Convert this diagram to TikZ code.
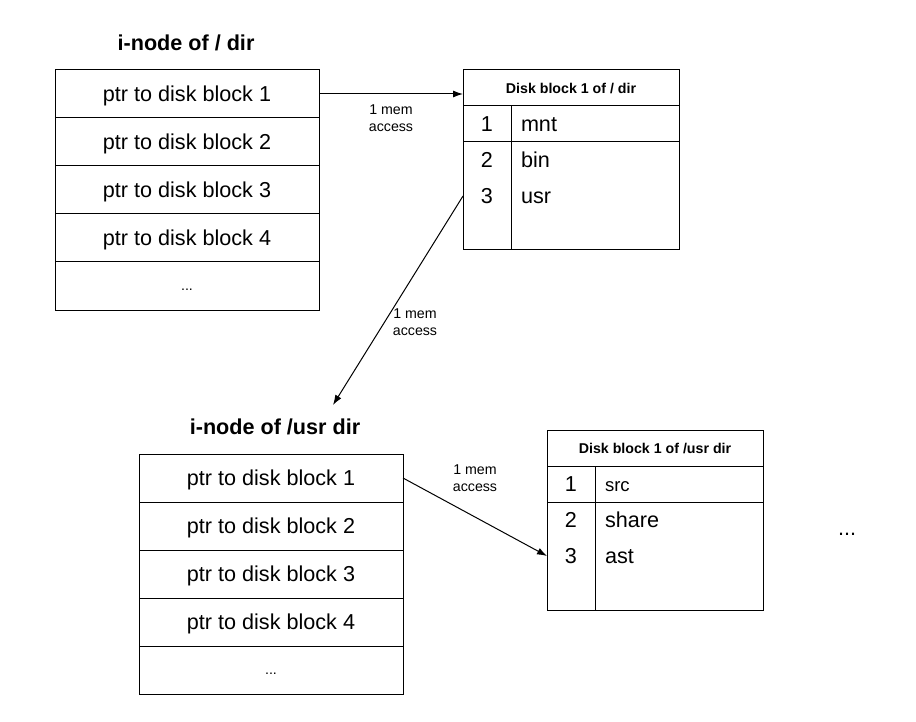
\documentclass[tikz,border=0pt]{standalone}
\usepackage{fontspec}
\setmainfont{Liberation Sans}
\usetikzlibrary{arrows.meta}
\usetikzlibrary{positioning}

\begin{document}
\begin{tikzpicture}[
  x=1pt, y=-1pt,
  > = {Latex[length=10pt,width=7pt]},
  line width=1pt,
  every node/.style = {outer sep=0pt, inner sep=0pt},
  bigtext/.style = {font=\fontsize{21.6}{26}\selectfont, text height=18pt, text depth=3pt},
  cell/.style = {draw, bigtext, minimum width=264pt, minimum height=48pt},
  heading/.style = {font=\fontsize{21.6}{26}\selectfont\bfseries},
  hdr/.style = {draw, minimum width=216pt, minimum height=36pt, font=\fontsize{14.2}{17}\selectfont\bfseries},
  numcell/.style = {draw, bigtext, minimum width=48pt, minimum height=36pt},
  namecell/.style = {draw, bigtext, minimum width=168pt, minimum height=36pt, text width=148pt, align=left},
  blockbody/.style = {draw, minimum width=216pt, minimum height=108pt},
  idx/.style = {bigtext},
  entry/.style = {bigtext, anchor=west},
  lbl/.style = {font=\fontsize{14.2}{17}\selectfont, align=center}
  ]
	\useasboundingbox (0,0) rectangle (916,722);

	% i-node of / dir
	\node[heading] (t1) at (186,43) {i-node of / dir};
	\foreach \i in {1,...,4}
		\node[cell] (a\i) at (187,{94+48*(\i-1)}) {ptr to disk block \i};
	\node[cell, font=\fontsize{14.2}{17}\selectfont] (a5) at (187,286) {\raisebox{3pt}[0pt][0pt]{...}};

	% disk block 1 of / dir
	\node[hdr] (d1h) at (571,88) {Disk block 1 of / dir};
	\node[numcell] (d1c1) at (487,124) {1};
	\node[namecell] (d1c2) at (595,124) {mnt};
	\node[blockbody] (d1b) at (571,196) {};
	\draw (d1c1.south east) -- (d1c1.south east |- d1b.south);
	\node[idx] (d1n2) at (487,160) {2};
	\node[entry] (d1m2) at (521,160) {bin};
	\node[idx] (d1n3) at (487,196) {3};
	\node[entry] (d1m3) at (521,196) {usr};

	% i-node of /usr dir
	\node[heading] (t2) at (275,427) {i-node of /usr dir};
	\foreach \i in {1,...,4}
		\node[cell] (b\i) at (271,{478+48*(\i-1)}) {ptr to disk block \i};
	\node[cell, font=\fontsize{14.2}{17}\selectfont] (b5) at (271,670) {\raisebox{3pt}[0pt][0pt]{...}};

	% disk block 1 of /usr dir
	\node[hdr] (d2h) at (655,448) {Disk block 1 of /usr dir};
	\node[numcell] (d2c1) at (571,484) {1};
	\node[namecell, font=\fontsize{18.5}{22}\selectfont] (d2c2) at (679,484) {src};
	\node[blockbody] (d2b) at (655,556) {};
	\draw (d2c1.south east) -- (d2c1.south east |- d2b.south);
	\node[idx] (d2n2) at (571,520) {2};
	\node[entry] (d2m2) at (605,520) {share};
	\node[idx] (d2n3) at (571,556) {3};
	\node[entry] (d2m3) at (605,556) {ast};

	\node[bigtext] (more) at (847,528) {...};

	% memory accesses
	\draw[->] (a1.east) -- (a1.east -| d1h.west);
	\node[lbl] (m1) at (391,118) {1 mem\\access};

	\coordinate (u1) at (333,405);
	\draw[->] (d1b.west |- d1n3) -- (u1);
	\node[lbl] (m2) at (415,322) {1 mem\\access};

	\draw[->] (b1.east) -- (d2b.west |- d2n3);
	\node[lbl] (m3) at (475,478) {1 mem\\access};
\end{tikzpicture}
\end{document}
